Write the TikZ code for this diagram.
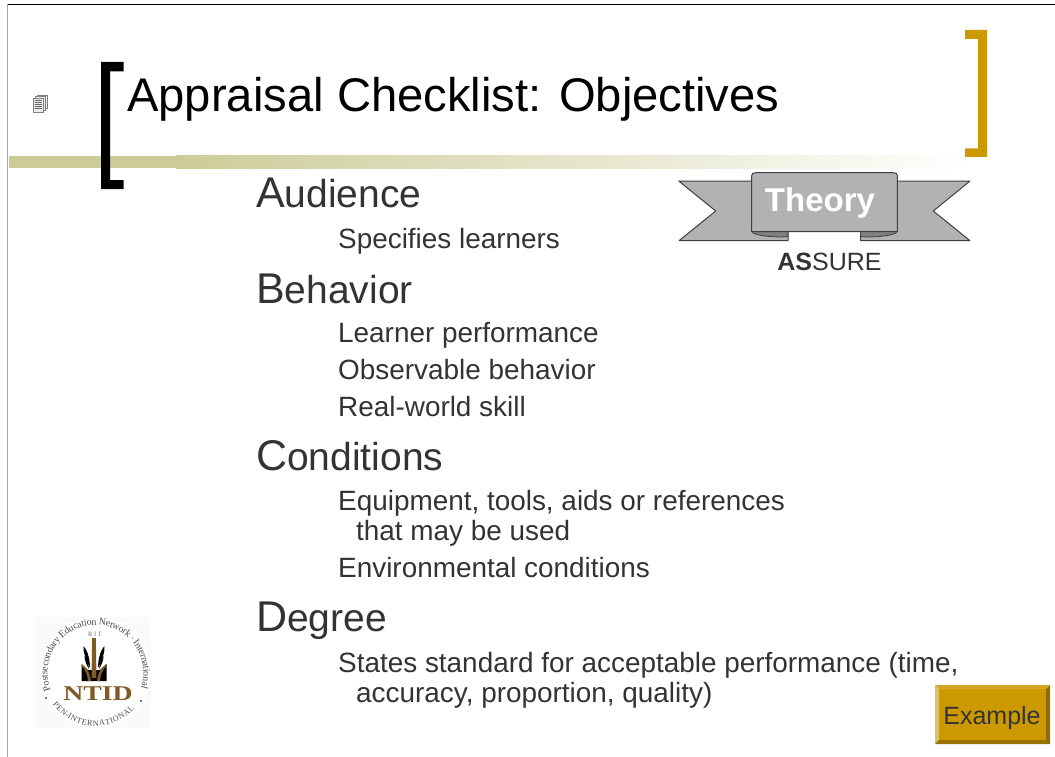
\documentclass[tikz,border=0pt]{standalone}
\usepackage{fontspec}
\setmainfont{Liberation Sans}
\newfontfamily\serifx{Liberation Serif}
\definecolor{txt}{HTML}{333333}
\definecolor{olive}{HTML}{CCCC99}
\definecolor{gold}{HTML}{CC9900}
\definecolor{ribbon}{HTML}{B2B2B2}
\definecolor{ribdark}{HTML}{808080}
\definecolor{brownx}{HTML}{7F5A26}
\newcommand{\hd}[2]{{\fontsize{43}{43}\selectfont #1}#2}
\tikzset{
 titletext/.style={anchor=base west,inner sep=0pt,font=\fontsize{47.2}{47.2}\selectfont,text=black},
 headtext/.style={anchor=base west,inner sep=0pt,font=\fontsize{39}{39}\selectfont,text=txt},
 subtext/.style={anchor=base west,inner sep=0pt,font=\fontsize{27.9}{27.9}\selectfont,text=txt},
 ribbonline/.style={draw=black!75,line width=1pt,line join=round,fill=ribbon},
 ringtext/.style={inner sep=0pt,anchor=base,font=\serifx\fontsize{9.8}{9.8}\selectfont,text=black!70},
 ringlow/.style={inner sep=0pt,anchor=base,font=\serifx\fontsize{8.2}{8.2}\selectfont,text=black!70},
}
\begin{document}
\begin{tikzpicture}[x=1pt,y=-1pt]
\useasboundingbox (0,0) rectangle (1055,757);
\fill[white] (0,0) rectangle (1055,757);
% frame
\draw[black,line width=1.2pt] (7,4.5) -- (1055,4.5);
\draw[black!35,line width=1pt] (7.5,4.5) -- (7.5,757);
% olive bar
\fill[olive] (9,156) rectangle (176,168);
\shade[left color=olive,right color=white] (176,156) rectangle (975,169);
% brackets
\fill[black] (123.5,62) -- (101,62) -- (101,189) -- (123.5,189) -- (123.5,180) -- (110,180) -- (110,71.5) -- (123.5,71.5) -- cycle;
\fill[gold] (965,30) -- (987,30) -- (987,157) -- (965,157) -- (965,148.5) -- (978,148.5) -- (978,39) -- (965,39) -- cycle;
% page icon
\begin{scope}[line width=.5pt]
\filldraw[draw=black!50,fill=black!8] (37,95) rectangle (47,108);
\filldraw[draw=black!50,fill=black!8] (35,96.5) rectangle (45,110);
\filldraw[draw=black!50,fill=black!8] (33,98) rectangle (43,112);
\foreach \yy in {100.5,102.5,104.5,106.5,108.5} \draw[black!60,line width=.8pt] (34.5,\yy) -- (41.5,\yy);
\end{scope}
% title
\node[titletext] (title) at (127,112) {Appraisal Checklist: Objectives};
% body
\node[headtext] (aud) at (256,207) {\hd{A}{udience}};
\node[subtext] (a1) at (338,248) {Specifies learners};
\node[headtext] (beh) at (256,303) {\hd{B}{ehavior}};
\node[subtext] (b1) at (338,342) {Learner performance};
\node[subtext] (b2) at (338,379) {Observable behavior};
\node[subtext] (b3) at (338,416) {Real-world skill};
\node[headtext] (con) at (256,470) {\hd{C}{onditions}};
\node[subtext] (c1) at (338,510) {Equipment, tools, aids or references};
\node[subtext] (c2) at (356,540) {that may be used};
\node[subtext] (c3) at (338,577) {Environmental conditions};
\node[headtext] (deg) at (256,631) {\hd{D}{egree}};
\node[subtext] (d1) at (338,672) {States standard for acceptable performance (time,};
\node[subtext] (d2) at (356,702) {accuracy, proportion, quality)};
% ribbon
\path[ribbonline] (751.7,181) -- (678.7,181) -- (715.7,211) -- (679,240.7) -- (788,240.7) -- (788,231) -- (751.7,231) -- cycle;
\path[ribbonline] (897.3,181) -- (970,181) -- (933.3,211) -- (970,240.7) -- (860.5,240.7) -- (860.5,231) -- (897.3,231) -- cycle;
\draw[draw=black!75,line width=.8pt,fill=ribdark] (751.7,231) .. controls (751.7,237) and (788,238) .. (788,236) -- (788,231) -- cycle;
\draw[draw=black!75,line width=.8pt,fill=ribdark] (897.3,231) .. controls (897.3,237) and (860.5,238) .. (860.5,236) -- (860.5,231) -- cycle;
\draw[black!75,line width=1pt,fill=ribbon] (751.7,175.5) .. controls (751.7,173.5) and (753,172.7) .. (756,172.7) -- (893,172.7) .. controls (896,172.7) and (897.3,173.5) .. (897.3,175.5) -- (897.3,231.7) -- (751.7,231.7) -- cycle;
\node[anchor=base,inner sep=0pt,text=white,font=\bfseries\fontsize{33}{33}\selectfont] (theory) at (820,211) {Theory};
\node[anchor=base,inner sep=0pt,text=txt,font=\fontsize{25}{25}\selectfont] (assure) at (829.5,270) {\textbf{AS}SURE};
% logo
\fill[black!2] (35,617) rectangle (151,728);
\fill[white] (95.5,672.5) circle (55.5);
\gdef\angcur{201}
\foreach \ch/\wc [count=\i] in {P/556,o/500,s/389,t/278,s/389,e/444,c/444,o/500,n/500,d/500,a/444,r/333,y/500,{\ }/250,E/611,d/500,u/500,c/444,a/444,t/278,i/278,o/500,n/500,{\ }/250,N/722,e/444,t/278,w/722,o/500,r/333,k/500,{\ }/250,·/250,{\ }/250,I/333,n/500,t/278,e/444,r/333,n/500,a/444,t/278,i/278,o/500,n/500,a/444,l/278}{
 \pgfmathsetmacro{\dang}{\wc*0.0098*1.135}
 \pgfmathsetmacro{\ang}{\angcur-\dang/2}
 \node[ringtext,rotate=\ang-90] (top\i) at ({95.5+48*cos(\ang)},{673-48*sin(\ang)}) {\ch};
 \pgfmathsetmacro{\nxt}{\angcur-\dang}
 \global\let\angcur\nxt
}
\gdef\angcur{216}
\foreach \ch/\wc [count=\i] in {P/556,E/611,N/722,-/333,I/333,N/722,T/611,E/611,R/667,N/722,A/722,T/611,I/333,O/722,N/722,A/722,L/611}{
 \pgfmathsetmacro{\dang}{\wc*0.0082*1.2}
 \pgfmathsetmacro{\ang}{\angcur+\dang/2}
 \node[ringlow,rotate=\ang+90] (bot\i) at ({95.5+53*cos(\ang)},{673-53*sin(\ang)}) {\ch};
 \pgfmathsetmacro{\nxt}{\angcur+\dang}
 \global\let\angcur\nxt
}
\fill[black!70] (46,698) circle (1.1) (141,701) circle (1.1);
\node[anchor=base,inner sep=0pt,font=\serifx\fontsize{6.5}{6.5}\selectfont,text=black!60] (rit) at (95,636) {R I T};
\node[anchor=base,inner sep=0pt,xscale=1.32,font=\serifx\bfseries\fontsize{21}{21}\selectfont,text=brownx] (ntid) at (98,700) {NTID};
\fill[black] (81.5,664) -- (88,670) -- (100,670) -- (106.5,664) -- (106.5,681) -- (81.5,681) -- cycle;
\fill[brownx] (92.2,638) -- (95.8,638) -- (96.5,678) -- (91.5,678) -- cycle;
\foreach \s in {-1,1}{
 \fill[black] ({94+\s*10.5},646) .. controls ({94+\s*11},652) and ({94+\s*8},660) .. ({94+\s*4},668) .. controls ({94+\s*4},660) and ({94+\s*6},651) .. cycle;
 \fill[black] ({94+\s*9.5},656) .. controls ({94+\s*9.5},660) and ({94+\s*8},664) .. ({94+\s*5},669) .. controls ({94+\s*5.5},664) and ({94+\s*7},659) .. cycle;
 \fill[brownx] ({94+\s*3},681) .. controls ({94+\s*4},672) and ({94+\s*8},667) .. ({94+\s*12},664.5) -- ({94+\s*12.5},666) .. controls ({94+\s*9},669) and ({94+\s*6.5},674) .. ({94+\s*6},681) -- cycle;
}
% example button
\fill[gold] (935,685) rectangle (1050,744);
\fill[gold!70!black] (1050,685) -- (1050,744) -- (1046,740) -- (1046,689) -- cycle;
\fill[gold!85!white] (935,685) -- (1050,685) -- (1046,689) -- (939,689) -- cycle;
\fill[gold!60!white] (935,685) -- (939,689) -- (939,740) -- (935,744) -- cycle;
\fill[gold!75!black] (935,744) -- (939,740) -- (1046,740) -- (1050,744) -- cycle;
\node[anchor=base,inner sep=0pt,text=txt,font=\fontsize{25}{25}\selectfont] (ex) at (992,724) {Example};
\end{tikzpicture}
\end{document}
